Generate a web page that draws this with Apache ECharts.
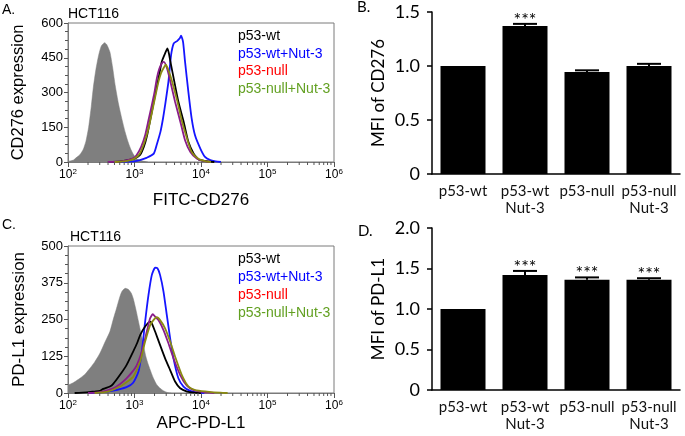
<!DOCTYPE html>
<html><head><meta charset="utf-8">
<script src="https://cdn.jsdelivr.net/npm/echarts@6/dist/echarts.min.js"></script>
<style>html,body{margin:0;padding:0;background:#fff}#c{width:685px;height:436px}</style>
</head><body><div id="c"></div><script>
// ---------- DATA ----------
// Histogram x values are log10(fluorescence intensity); y = cell count
const histNames = ['p53-wt', 'p53-wt+Nut-3', 'p53-null', 'p53-null+Nut-3'];
const decadeExponents = [2, 3, 4, 5, 6];

// Panel A: CD276
const cd276Isotype = [[2.0,3],[2.08,8],[2.13,20],[2.18,32],[2.23,55],[2.27,90],[2.31,150],[2.35,240],[2.38,320],[2.42,400],[2.46,460],[2.5,500],[2.55,515],[2.58,508],[2.63,475],[2.67,410],[2.71,330],[2.76,250],[2.81,186],[2.86,128],[2.9,90],[2.94,58],[2.98,35],[3.03,15],[3.1,6],[3.2,0]];
const cd276Wt = [[2.6,0],[2.8,3],[2.9,8],[3.0,15],[3.08,29],[3.14,65],[3.19,115],[3.26,216],[3.3,275],[3.34,332],[3.38,390],[3.41,433],[3.46,469],[3.495,490],[3.52,465],[3.54,433],[3.59,360],[3.66,260],[3.74,173],[3.81,87],[3.89,36],[3.95,15],[3.99,8],[4.1,3],[4.2,0]];
const cd276WtNut = [[2.8,0],[3.0,3],[3.08,8],[3.18,18],[3.29,36],[3.34,80],[3.39,130],[3.43,190],[3.46,245],[3.51,346],[3.55,461],[3.59,512],[3.64,522],[3.68,534],[3.70,545],[3.73,519],[3.76,433],[3.81,303],[3.86,187],[3.91,115],[3.99,58],[4.06,22],[4.14,8],[4.22,3],[4.3,0]];
const cd276Null = [[2.6,0],[2.8,3],[2.88,7],[2.97,15],[3.03,29],[3.1,65],[3.16,115],[3.21,180],[3.26,245],[3.3,300],[3.335,360],[3.37,400],[3.41,425],[3.44,432],[3.49,404],[3.54,346],[3.61,260],[3.69,173],[3.76,94],[3.84,43],[3.94,14],[4.05,4],[4.15,0]];
const cd276NullNut = [[2.7,0],[2.85,3],[2.93,7],[3.0,15],[3.08,36],[3.15,85],[3.21,144],[3.285,245],[3.36,346],[3.40,385],[3.44,407],[3.47,420],[3.51,397],[3.56,353],[3.64,267],[3.71,180],[3.79,101],[3.86,43],[3.96,14],[4.06,4],[4.15,0]];

// Panel C: PD-L1
const pdl1Isotype = [[2.0,27],[2.08,35],[2.18,50],[2.26,65],[2.33,84],[2.4,105],[2.48,135],[2.55,170],[2.63,209],[2.68,250],[2.73,288],[2.77,320],[2.81,345],[2.86,356],[2.91,352],[2.95,340],[2.98,322],[3.02,285],[3.06,243],[3.1,200],[3.135,163],[3.17,125],[3.21,95],[3.25,70],[3.285,50],[3.33,30],[3.385,16],[3.44,7],[3.49,2],[3.55,0]];
const pdl1Wt = [[2.1,0],[2.28,2],[2.4,5],[2.48,7],[2.53,14],[2.63,22],[2.68,31],[2.78,61],[2.88,95],[2.98,141],[3.04,170],[3.085,197],[3.16,226],[3.235,243],[3.26,237],[3.31,209],[3.385,163],[3.46,118],[3.536,78],[3.61,39],[3.687,16],[3.79,5],[3.9,1],[4.0,0]];
const pdl1WtNut = [[2.3,0],[2.48,2],[2.68,8],[2.88,20],[2.98,35],[3.06,73],[3.11,141],[3.16,243],[3.21,333],[3.26,401],[3.31,426],[3.345,424],[3.385,401],[3.436,345],[3.486,265],[3.536,186],[3.586,118],[3.66,50],[3.737,22],[3.837,7],[3.94,2],[4.05,0]];
const pdl1Null = [[2.3,0],[2.48,3],[2.68,16],[2.78,30],[2.88,50],[2.96,70],[3.035,95],[3.11,141],[3.185,209],[3.235,254],[3.275,268],[3.31,260],[3.36,248],[3.436,214],[3.51,169],[3.586,118],[3.687,61],[3.787,25],[3.888,10],[4.04,3],[4.2,0]];
const pdl1NullNut = [[2.4,0],[2.6,5],[2.78,22],[2.9,40],[2.984,56],[3.085,107],[3.16,175],[3.235,231],[3.285,248],[3.335,258],[3.385,248],[3.46,220],[3.536,175],[3.61,124],[3.712,61],[3.812,22],[3.913,10],[4.09,5],[4.29,1],[4.4,0]];

// Bar charts
const barCategories = ['p53-wt', 'p53-wt\nNut-3', 'p53-null', 'p53-null\nNut-3'];
const cd276Mfi = [1.0, 1.37, 0.945, 1.0];
const cd276Err = [0, 0.02, 0.015, 0.02];
const cd276Sig = ['', '***', '', ''];
const pdl1Mfi = [1.0, 1.42, 1.36, 1.36];
const pdl1Err = [0, 0.05, 0.03, 0.02];
const pdl1Sig = ['', '***', '***', '***'];

// ---------- STYLE ----------
const SANS = 'Liberation Sans';
const CAL = 'Lato';
const lineColors = ['#000000', '#1515ff', '#8a1c8a', '#8a8a12'];
const legendColors = ['#000000', '#0000ff', '#ff0000', '#62a021'];
const grayFill = '#7f7f7f';
const boxColor = '#7a7a7a';

// minor tick positions for log decades (axis decoration)
const minorLog = [];
decadeExponents.slice(0, -1).forEach(n => { for (let k = 2; k <= 9; k++) minorLog.push([n + Math.log10(k)]); });

function histXAxis(gridIndex, name, nameGap) {
  return {
    type: 'value', gridIndex, min: 2, max: 6, interval: 1,
    name, nameLocation: 'middle', nameGap,
    nameTextStyle: { fontFamily: SANS, fontSize: 17, color: '#000' },
    axisLine: { show: true, lineStyle: { color: boxColor, width: 1 } },
    axisTick: { show: true, length: 5, lineStyle: { color: '#555' } },
    splitLine: { show: false },
    axisLabel: {
      margin: 6, color: '#000', fontFamily: SANS,
      formatter: v => '{b|10}{s|' + v + '}',
      rich: {
        b: { fontSize: 12, fontFamily: SANS, color: '#000', verticalAlign: 'bottom' },
        s: { fontSize: 8, fontFamily: SANS, color: '#000', verticalAlign: 'bottom', padding: [0, 0, 5, 0] }
      }
    }
  };
}
function histYAxis(gridIndex, max, interval, name, nameGap, fs) {
  return {
    type: 'value', gridIndex, min: 0, max, interval,
    name, nameLocation: 'middle', nameGap,
    nameTextStyle: { fontFamily: SANS, fontSize: fs, color: '#000' },
    axisLine: { show: true, lineStyle: { color: boxColor, width: 1 } },
    axisTick: { show: true, length: 4, lineStyle: { color: '#555' } },
    minorTick: { show: true, splitNumber: 4, length: 3, lineStyle: { color: '#555' } },
    splitLine: { show: false },
    axisLabel: { margin: 5, fontFamily: SANS, fontSize: 13, color: '#000' }
  };
}
function barXAxis(gridIndex) {
  return {
    type: 'category', gridIndex, data: barCategories,
    axisLine: { show: true, lineStyle: { color: '#000', width: 1.5 } },
    axisTick: { show: false },
    axisLabel: { margin: 9, fontFamily: CAL, fontSize: 15, lineHeight: 16.5, color: '#111', interval: 0 }
  };
}
function barYAxis(gridIndex, max, name) {
  return {
    type: 'value', gridIndex, min: 0, max, interval: 0.5,
    name, nameLocation: 'middle', nameGap: 45,
    nameTextStyle: { fontFamily: CAL, fontSize: 17, color: '#000' },
    axisLine: { show: true, lineStyle: { color: '#000', width: 1.5 } },
    axisTick: { show: true, length: 5, lineStyle: { color: '#000', width: 1.5 } },
    splitLine: { show: false },
    axisLabel: { margin: 12, fontFamily: CAL, fontSize: 18, color: '#000',
      formatter: v => v === 0 ? '0' : v.toFixed(1) }
  };
}
function histSeries(axisIdx, iso, curves) {
  const out = [{
    type: 'line', name: 'isotype', xAxisIndex: axisIdx, yAxisIndex: axisIdx, data: iso,
    showSymbol: false, smooth: 0.2, silent: true,
    lineStyle: { width: 0.5, color: grayFill }, areaStyle: { color: grayFill, opacity: 1 }, z: 2
  }];
  const order = [1, 0, 2, 3];
  order.forEach(i => out.push({
    type: 'line', name: histNames[i], xAxisIndex: axisIdx, yAxisIndex: axisIdx, data: curves[i],
    showSymbol: false, smooth: 0.2, silent: true,
    lineStyle: { width: 1.8, color: lineColors[i] }, z: 3
  }));
  out.push({
    type: 'custom', xAxisIndex: axisIdx, yAxisIndex: axisIdx, data: minorLog, silent: true, clip: false,
    encode: { x: 0 }, z: 5,
    renderItem: (p, api) => {
      const pt = api.coord([api.value(0), 0]);
      return { type: 'line', shape: { x1: pt[0], y1: pt[1], x2: pt[0], y2: pt[1] + 3 }, style: { stroke: '#555', lineWidth: 1 } };
    }
  });
  return out;
}
function barSeries(axisIdx, means, errs, sig) {
  return [{
    type: 'bar', xAxisIndex: axisIdx, yAxisIndex: axisIdx, data: means, barWidth: 45,
    itemStyle: { color: '#000' }, silent: true
  }, {
    type: 'custom', xAxisIndex: axisIdx, yAxisIndex: axisIdx, silent: true, clip: false, z: 5,
    data: means.map((m, i) => [i, m, errs[i]]), encode: { x: 0, y: 1 },
    renderItem: (p, api) => {
      const i = api.value(0), m = api.value(1), e = api.value(2);
      const base = api.coord([i, m]);
      const top = api.coord([i, m + e]);
      const cw = 12;
      const children = [];
      if (e > 0) {
        children.push({ type: 'line', shape: { x1: top[0], y1: base[1], x2: top[0], y2: top[1] }, style: { stroke: '#000', lineWidth: 2 } });
        children.push({ type: 'line', shape: { x1: top[0] - cw, y1: top[1], x2: top[0] + cw, y2: top[1] }, style: { stroke: '#000', lineWidth: 2 } });
      }
      const s = sig[p.dataIndex];
      if (s) children.push({ type: 'text', x: top[0], y: top[1] - 4,
        style: { text: s, fill: '#000', font: '18px ' + CAL, align: 'center', verticalAlign: 'middle' } });
      return { type: 'group', children };
    }
  }];
}
function legendTexts(x, ys) {
  return histNames.map((n, i) => ({
    type: 'text', left: x, top: ys[i] - 8,
    style: { text: n, fill: legendColors[i], font: '14px ' + SANS }
  }));
}

const chart = echarts.init(document.getElementById('c'), null, { renderer: 'canvas' });
chart.setOption({
  animation: false,
  backgroundColor: '#fff',
  grid: [
    { left: 68, top: 23, width: 266, height: 139, show: true, borderColor: boxColor, borderWidth: 1, backgroundColor: 'transparent' },
    { left: 432, top: 12, width: 248, height: 162 },
    { left: 68, top: 246, width: 266, height: 147, show: true, borderColor: boxColor, borderWidth: 1, backgroundColor: 'transparent' },
    { left: 432, top: 228, width: 248, height: 162 }
  ],
  xAxis: [histXAxis(0, 'FITC-CD276', 30), barXAxis(1), histXAxis(2, 'APC-PD-L1', 22), barXAxis(3)],
  yAxis: [histYAxis(0, 600, 150, 'CD276 expression', 41, 16.5), barYAxis(1, 1.5, 'MFI of CD276'),
          histYAxis(2, 500, 125, 'PD-L1 expression', 40, 17), barYAxis(3, 2.0, 'MFI of PD-L1')],
  series: [
    ...histSeries(0, cd276Isotype, [cd276Wt, cd276WtNut, cd276Null, cd276NullNut]),
    ...barSeries(1, cd276Mfi, cd276Err, cd276Sig),
    ...histSeries(2, pdl1Isotype, [pdl1Wt, pdl1WtNut, pdl1Null, pdl1NullNut]),
    ...barSeries(3, pdl1Mfi, pdl1Err, pdl1Sig)
  ],
  graphic: [
    { type: 'text', left: 2, top: 3, style: { text: 'A.', fill: '#000', font: '14px ' + SANS } },
    { type: 'text', left: 68, top: 7, style: { text: 'HCT116', fill: '#000', font: '14px ' + SANS } },
    { type: 'text', left: 2, top: 218, style: { text: 'C.', fill: '#000', font: '14px ' + SANS } },
    { type: 'text', left: 70, top: 230, style: { text: 'HCT116', fill: '#000', font: '14px ' + SANS } },
    { type: 'text', left: 357, top: 0, style: { text: 'B.', fill: '#000', font: '15px ' + CAL } },
    { type: 'text', left: 358, top: 224, style: { text: 'D.', fill: '#000', font: '15px ' + CAL } },
    ...legendTexts(238, [37.5, 55, 72.5, 90]),
    ...legendTexts(238, [260, 278, 296, 314])
  ]
});
</script></body></html>
